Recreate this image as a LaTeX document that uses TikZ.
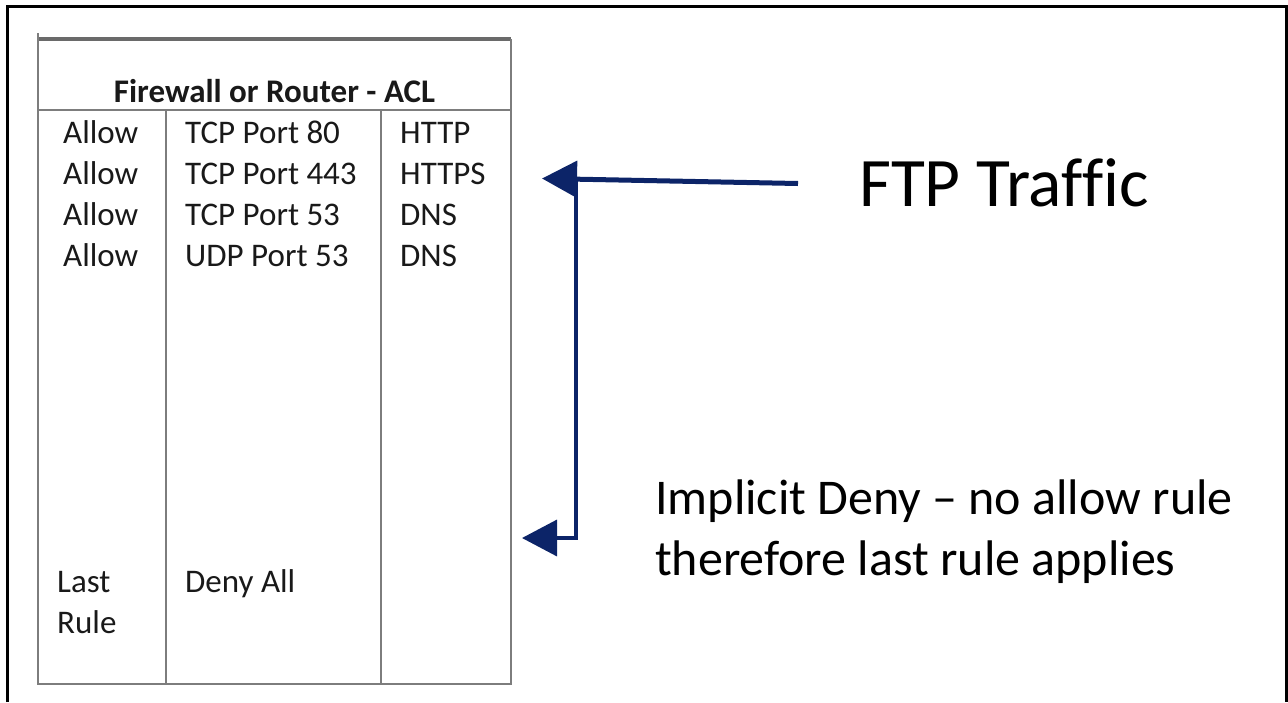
\documentclass[tikz,border=0pt]{standalone}
\usepackage{fontspec}
\setmainfont{Carlito}[Ligatures=NoCommon]
\usetikzlibrary{arrows.meta}
\definecolor{navy}{RGB}{12,36,104}
\definecolor{rulegray}{RGB}{125,125,125}
\definecolor{inkgray}{RGB}{25,25,25}

\begin{document}
\begin{tikzpicture}[x=1pt,y=-1pt,
  frame/.style={line width=3pt,black},
  grid/.style={line width=2pt,rulegray},
  cell/.style={anchor=base west,inner sep=0pt,text=inkgray,
    font=\fontsize{33}{40}\selectfont},
  head/.style={anchor=base,inner sep=0pt,text=inkgray,
    font=\fontsize{33}{40}\selectfont\bfseries},
  callout/.style={anchor=base west,inner sep=0pt,text=black},
  pointer/.style={navy,line width=5pt,
    -{Triangle[length=35pt,width=36pt]}},
  stem/.style={navy,line width=3.5pt}]
\useasboundingbox (0,0) rectangle (1288,702);

% page frame (open at the bottom)
\draw[frame] (7.5,702) -- (7.5,6) -- (1286,6) -- (1286,702);

% ACL table
\draw[line width=4pt,rulegray!85!black] (38,39) -- (511,39);
\draw[grid] (38,33) -- (38,684) -- (511,684) -- (511,39);
\draw[grid] (38,110) -- (511,110);
\draw[grid] (166,110) -- (166,684);
\draw[grid] (381,110) -- (381,684);

\node[head] (title) at (274.5,102) {Firewall or Router - ACL};

\node[cell] (act1) at (63,143) {Allow};
\node[cell] (prt1) at (185,143) {TCP Port 80};
\node[cell] (svc1) at (400,143) {HTTP};
\node[cell] (act2) at (63,184) {Allow};
\node[cell] (prt2) at (185,184) {TCP Port 443};
\node[cell] (svc2) at (400,184) {HTTPS};
\node[cell] (act3) at (63,225) {Allow};
\node[cell] (prt3) at (185,225) {TCP Port 53};
\node[cell] (svc3) at (400,225) {DNS};
\node[cell] (act4) at (63,266) {Allow};
\node[cell] (prt4) at (185,266) {UDP Port 53};
\node[cell] (svc4) at (400,266) {DNS};

\node[cell] (last) at (57,592) {Last};
\node[cell] (rule) at (57,633) {Rule};
\node[cell] (deny) at (185,592) {Deny All};

% callouts
\node[callout,font=\fontsize{69.5}{82}\selectfont] (ftp) at (859,206) {FTP Traffic};
\node[callout,font=\fontsize{50}{61}\selectfont] (impl1) at (655,514) {Implicit Deny – no allow rule};
\node[callout,font=\fontsize{50}{61}\selectfont] (impl2) at (655,575) {therefore last rule applies};

% traffic path
\coordinate (src) at (798,183.5);
\coordinate (hit) at (542,178.5);
\coordinate (bend) at (576,179);
\coordinate (corner) at (576,538);
\coordinate (fall) at (522,538);

\draw[pointer] (src) -- (hit);
\draw[stem,-{Triangle[length=35pt,width=36pt]}] (bend) -- (corner) -- (fall);
\end{tikzpicture}
\end{document}
